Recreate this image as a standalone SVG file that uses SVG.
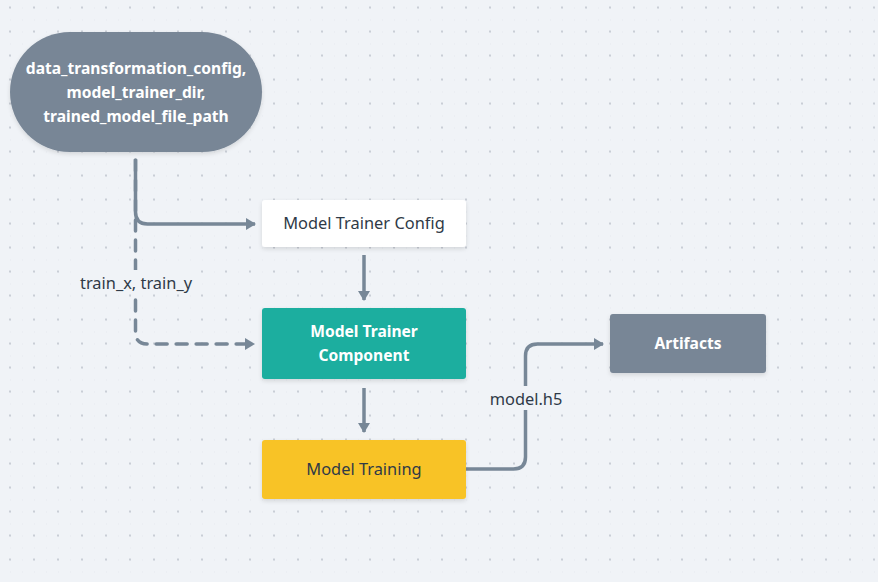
<svg xmlns="http://www.w3.org/2000/svg" width="878" height="582" viewBox="0 0 878 582">
  <defs>
    <pattern id="dotsLight" x="10" y="7.5" width="12" height="12" patternUnits="userSpaceOnUse">
      <rect x="-0.75" y="-0.75" width="1.5" height="1.5" fill="#dfe3e9"/>
    </pattern>
    <pattern id="dotsDark" x="10" y="7.5" width="24" height="24" patternUnits="userSpaceOnUse">
      <rect x="-1" y="-1" width="2" height="2" fill="#c9ced6"/>
      <rect x="23" y="-1" width="2" height="2" fill="#c9ced6"/>
      <rect x="-1" y="23" width="2" height="2" fill="#c9ced6"/>
      <rect x="23" y="23" width="2" height="2" fill="#c9ced6"/>
    </pattern>
    <filter id="shadow" x="-10%" y="-20%" width="120%" height="150%">
      <feDropShadow dx="0" dy="2" stdDeviation="2" flood-color="#000000" flood-opacity="0.12"/>
    </filter>
    <marker id="arrow" viewBox="0 0 10 12" refX="9" refY="6" markerWidth="10" markerHeight="12" markerUnits="userSpaceOnUse" orient="auto">
      <path d="M0,0 L10,6 L0,12 Z" fill="#778797"/>
    </marker>
  </defs>
  <style>
    .edge { fill: none; stroke: #778797; stroke-width: 3.5; }
    .dash { stroke-dasharray: 11 9; stroke-linecap: round; }
    .label { font-family: "Noto Sans", "Liberation Sans", sans-serif; font-size: 16.4px; fill: #2f3a47; text-anchor: middle; }
    .lbg { fill: #f0f3f7; }
    .t-white { font-family: "Noto Sans", "Liberation Sans", sans-serif; font-size: 15.6px; font-weight: bold; fill: #ffffff; text-anchor: middle; }
    .t-dark { font-family: "Noto Sans", "Liberation Sans", sans-serif; font-size: 16.4px; fill: #2f3a47; text-anchor: middle; }
  </style>

  <rect width="878" height="582" fill="#f0f3f7"/>
  <rect width="878" height="582" fill="url(#dotsLight)"/>
  <rect width="878" height="582" fill="url(#dotsDark)"/>

  <g id="connectors">
    <path class="edge dash" d="M135.5,160 V332 Q135.5,344 147.5,344 H254" marker-end="url(#arrow)"/>
    <path class="edge" d="M135.5,159 V212 Q135.5,224 147.5,224 H255" marker-end="url(#arrow)"/>
    <path class="edge" d="M364,255 V300" marker-end="url(#arrow)"/>
    <path class="edge" d="M364,388 V432" marker-end="url(#arrow)"/>
    <path class="edge" d="M466,469 H513.5 Q525.5,469 525.5,457 V356 Q525.5,344 537.5,344 H603" marker-end="url(#arrow)"/>
    <g id="label-train">
      <rect class="lbg" x="76" y="270" width="120" height="24"/>
      <text class="label" x="136" y="289">train_x, train_y</text>
    </g>
    <g id="label-model">
      <rect class="lbg" x="487" y="386" width="78" height="24"/>
      <text class="label" x="526" y="405">model.h5</text>
    </g>
  </g>

  <g id="node-inputs">
    <rect x="10" y="32" width="252" height="120" rx="60" ry="60" fill="#788696" filter="url(#shadow)"/>
    <text class="t-white" x="136" y="74">data_transformation_config,</text>
    <text class="t-white" x="136" y="98">model_trainer_dir,</text>
    <text class="t-white" x="136" y="122">trained_model_file_path</text>
  </g>

  <g id="node-config">
    <rect x="262" y="200" width="204" height="47" rx="3" fill="#ffffff" filter="url(#shadow)"/>
    <text class="t-dark" x="364" y="229">Model Trainer Config</text>
  </g>

  <g id="node-component">
    <rect x="262" y="308" width="204" height="71" rx="3" fill="#1aae9f" filter="url(#shadow)"/>
    <text class="t-white" x="364" y="337">Model Trainer</text>
    <text class="t-white" x="364" y="361">Component</text>
  </g>

  <g id="node-training">
    <rect x="262" y="440" width="204" height="59" rx="3" fill="#f8c325" filter="url(#shadow)"/>
    <text class="t-dark" x="364" y="475">Model Training</text>
  </g>

  <g id="node-artifacts">
    <rect x="610" y="314" width="156" height="59" rx="3" fill="#788696" filter="url(#shadow)"/>
    <text class="t-white" x="688" y="349">Artifacts</text>
  </g>
</svg>
